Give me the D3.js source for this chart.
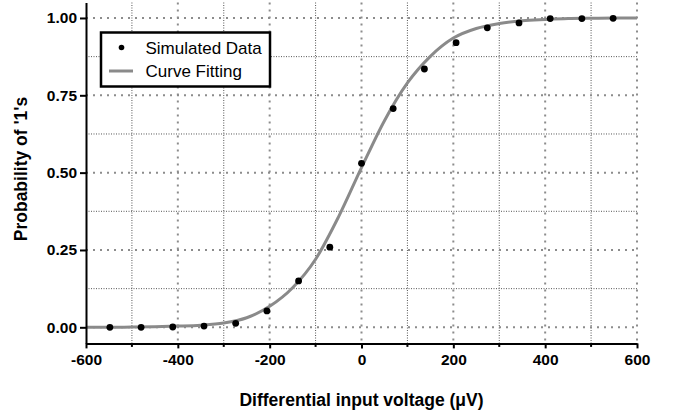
<!DOCTYPE html>
<html>
<head>
<meta charset="utf-8">
<script src="https://cdn.jsdelivr.net/npm/d3@7"></script>
<style>
  body { margin: 0; background: #fff; }
  text { font-family: "Liberation Sans", Arial, sans-serif; }
</style>
</head>
<body>
<div id="chart"></div>
<script>
// simulated data points
const simVoltage = [-548, -480, -411, -343, -274, -206, -137, -69, 0, 69, 137, 206, 274, 343, 411, 480, 548];
const simProb = [0.000, 0.000, 0.001, 0.004, 0.013, 0.053, 0.150, 0.259, 0.530, 0.707, 0.835, 0.920, 0.968, 0.984, 0.998, 0.998, 0.999];

// fitted curve
const fitVoltage = [-600, -550, -500, -450, -400, -350, -300, -250, -200, -150, -100, -50, 0, 50, 100, 150, 200, 250, 300, 350, 400, 450, 500, 550, 600];
const fitProb = [0.000, 0.000, 0.001, 0.002, 0.004, 0.007, 0.014, 0.031, 0.068, 0.128, 0.220, 0.357, 0.516, 0.668, 0.790, 0.876, 0.935, 0.966, 0.982, 0.991, 0.995, 0.998, 0.999, 1.000, 1.000];

const xTicks = [-600, -400, -200, 0, 200, 400, 600];
const xMinor = [-500, -300, -100, 100, 300, 500];
const yTicks = [0, 0.25, 0.5, 0.75, 1];
const yMinor = [0.125, 0.375, 0.625, 0.875];

const width = 673, height = 414;
const margin = {left: 86, right: 637, top: 2.5, bottom: 343.4};

const svg = d3.select("#chart").append("svg")
  .attr("width", width)
  .attr("height", height);

const x = d3.scaleLinear().domain([-600, 600]).range([margin.left, margin.right]);
const y = d3.scaleLinear().domain([-0.052, 1.05]).range([margin.bottom, margin.top]);

// grid
const grid = svg.append("g");
grid.selectAll(".vminor").data(xMinor).enter().append("line")
  .attr("x1", d => x(d)).attr("x2", d => x(d))
  .attr("y1", margin.top).attr("y2", margin.bottom)
  .style("stroke", "#555").style("stroke-width", 1).style("stroke-dasharray", "1,1.5");
grid.selectAll(".hminor").data(yMinor).enter().append("line")
  .attr("x1", margin.left).attr("x2", margin.right)
  .attr("y1", d => y(d)).attr("y2", d => y(d))
  .style("stroke", "#555").style("stroke-width", 1).style("stroke-dasharray", "1,1.5");
grid.selectAll(".vmajor").data(xTicks.slice(1)).enter().append("line")
  .attr("x1", d => x(d)).attr("x2", d => x(d))
  .attr("y1", margin.top).attr("y2", margin.bottom)
  .style("stroke", "#8c8c8c").style("stroke-width", 2).style("stroke-dasharray", "2,5");
grid.selectAll(".hmajor").data(yTicks).enter().append("line")
  .attr("x1", margin.left).attr("x2", margin.right)
  .attr("y1", d => y(d)).attr("y2", d => y(d))
  .style("stroke", "#8c8c8c").style("stroke-width", 2).style("stroke-dasharray", "2,5");

// fitted curve
const line = d3.line()
  .x((d, i) => x(fitVoltage[i]))
  .y(d => y(d))
  .curve(d3.curveMonotoneX);

svg.append("path")
  .datum(fitProb)
  .attr("d", line)
  .style("fill", "none")
  .style("stroke", "#8a8a8a")
  .style("stroke-width", 3);

// points
svg.selectAll(".pt").data(simProb).enter().append("circle")
  .attr("cx", (d, i) => x(simVoltage[i]))
  .attr("cy", d => y(d))
  .attr("r", 3.4)
  .style("fill", "#000");

// axes
const xAxis = svg.append("g")
  .attr("transform", `translate(0,${margin.bottom})`)
  .call(d3.axisBottom(x).tickValues(xTicks).tickFormat(d => String(d))
    .tickSize(5).tickSizeOuter(0).tickPadding(6));
xAxis.append("g").selectAll("line").data(xMinor).enter().append("line")
  .attr("x1", d => x(d)).attr("x2", d => x(d))
  .attr("y1", 0).attr("y2", 3.5)
  .style("stroke", "#000").style("stroke-width", 2);

const yAxis = svg.append("g")
  .attr("transform", `translate(${margin.left},0)`)
  .call(d3.axisLeft(y).tickValues(yTicks).tickFormat(d => d.toFixed(2))
    .tickSize(6).tickSizeOuter(0).tickPadding(3));

[xAxis, yAxis].forEach(a => {
  a.select(".domain").style("stroke", "#000").style("stroke-width", 2);
  a.selectAll(".tick line").style("stroke", "#000").style("stroke-width", 2);
  a.selectAll(".tick text")
    .style("font-size", "15.5px")
    .style("font-weight", "bold")
    .style("fill", "#000");
});

// axis titles
svg.append("text")
  .attr("x", x(0))
  .attr("y", 406)
  .attr("text-anchor", "middle")
  .style("font-size", "17.5px")
  .style("font-weight", "bold")
  .text("Differential input voltage (μV)");

svg.append("text")
  .attr("transform", "translate(27,169) rotate(-90)")
  .attr("text-anchor", "middle")
  .style("font-size", "17.5px")
  .style("font-weight", "bold")
  .text("Probability of '1's");

// legend
const legend = svg.append("g");
legend.append("rect")
  .attr("x", 101).attr("y", 32.5)
  .attr("width", 169).attr("height", 54)
  .style("fill", "#fff")
  .style("stroke", "#000")
  .style("stroke-width", 2.5);
legend.append("circle")
  .attr("cx", 121.5).attr("cy", 47.5).attr("r", 2.8)
  .style("fill", "#000");
legend.append("line")
  .attr("x1", 109).attr("x2", 133)
  .attr("y1", 71).attr("y2", 71)
  .style("stroke", "#8a8a8a").style("stroke-width", 3);
legend.append("text")
  .attr("x", 145.5).attr("y", 53.5)
  .style("font-size", "17px")
  .text("Simulated Data");
legend.append("text")
  .attr("x", 145.5).attr("y", 77)
  .style("font-size", "17px")
  .text("Curve Fitting");
</script>
</body>
</html>
